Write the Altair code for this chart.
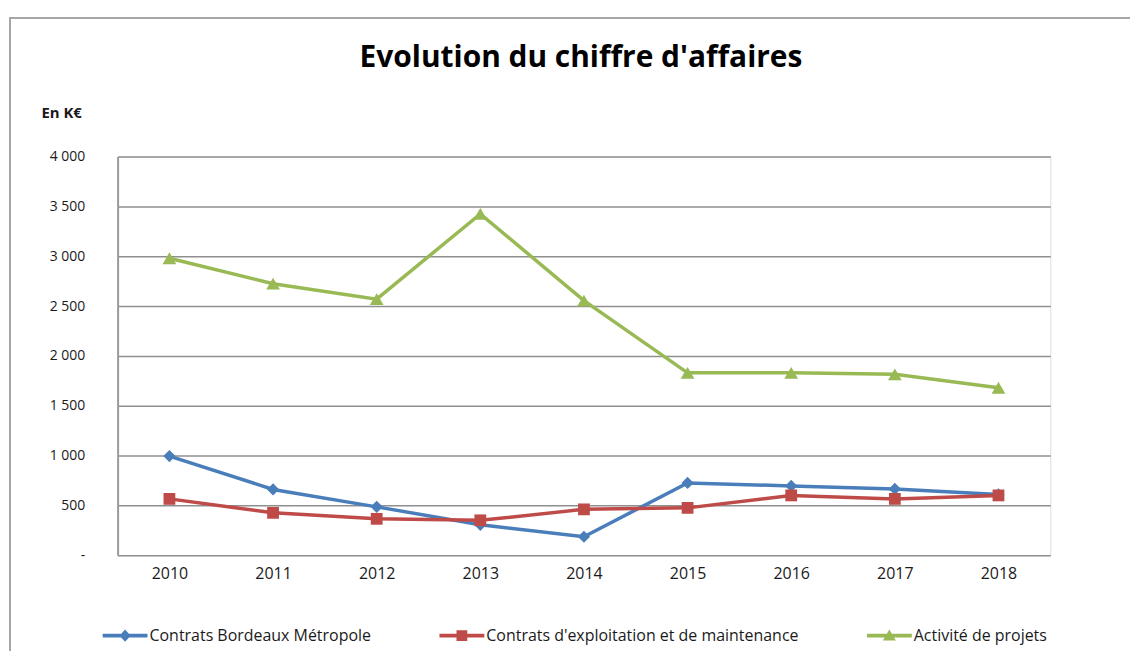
import altair as alt
import pandas as pd

years = ["2010", "2011", "2012", "2013", "2014", "2015", "2016", "2017", "2018"]
series_names = [
    "Contrats Bordeaux Métropole",
    "Contrats d'exploitation et de maintenance",
    "Activité de projets",
]
bordeaux = [995, 660, 485, 305, 185, 725, 695, 665, 610]
exploitation = [565, 425, 365, 350, 460, 475, 600, 565, 600]
projets = [2980, 2725, 2570, 3425, 2555, 1830, 1830, 1815, 1680]
y_ticks = [0, 500, 1000, 1500, 2000, 2500, 3000, 3500, 4000]

colors = ["#4A7EBB", "#BE4B48", "#98B954"]
shapes = ["diamond", "square", "triangle-up"]
sizes = [150, 140, 190]
# legend symbols: a line with the marker in its middle (unit coordinates)
legend_paths = [
    "M-1,-0.085H1V0.085H-1Z M0,-0.27L0.25,0L0,0.27L-0.25,0Z",
    "M-1,-0.085H1V0.085H-1Z M-0.24,-0.24H0.24V0.24H-0.24Z",
    "M-1,-0.085H1V0.085H-1Z M0,-0.28L0.29,0.22L-0.29,0.22Z",
]

rows = []
for name, vals in zip(series_names, [bordeaux, exploitation, projets]):
    for yr, v in zip(years, vals):
        rows.append({"annee": yr, "serie": name, "valeur": v})
df = pd.DataFrame(rows)

FONT = "Open Sans"
TEXT = "#1a1a1a"

x_enc = alt.X(
    "annee:O",
    scale=alt.Scale(type="point", padding=0.5),
    axis=alt.Axis(
        title=None, labelAngle=0, ticks=False, domain=False, grid=False,
        labelFontSize=16, labelColor=TEXT, labelFont=FONT, labelPadding=10,
    ),
)
y_enc = alt.Y(
    "valeur:Q",
    scale=alt.Scale(domain=[0, 4000], nice=False),
    axis=alt.Axis(
        values=y_ticks,
        title="En K€", titleAngle=0, titleAlign="left", titleBaseline="middle",
        titleX=-77, titleY=-44, titleFontSize=15, titleFontWeight="bold",
        titleFont=FONT, titleColor=TEXT,
        labelExpr="datum.value == 0 ? '-' : replace(format(datum.value, ','), ',', ' ')",
        labelFontSize=14, labelColor=TEXT, labelFont=FONT, labelPadding=33,
        ticks=False, domain=True, domainColor="#9a9a9a", domainWidth=2,
        grid=True, gridColor="#8f8f8f", gridWidth=1.5,
    ),
)
color_scale = alt.Scale(domain=series_names, range=colors)

base = alt.Chart(df)

frame = alt.Chart(pd.DataFrame({"k": [0]})).mark_rect(
    fill=None, stroke="#a6a6a6", strokeWidth=2
).encode(
    x=alt.value(-108), x2=alt.value(1200), y=alt.value(-139), y2=alt.value(700)
)

lines = base.mark_line(strokeWidth=3.5).encode(
    x=x_enc, y=y_enc,
    color=alt.Color("serie:N", scale=color_scale, legend=None),
)

point_layers = []
for name, shp, sz in zip(series_names, shapes, sizes):
    point_layers.append(
        base.transform_filter(alt.datum.serie == name)
        .mark_point(shape=shp, filled=True, size=sz, opacity=1)
        .encode(
            x=x_enc, y=y_enc,
            color=alt.Color("serie:N", scale=color_scale, legend=None),
        )
    )

names_js = "[" + ",".join("'" + n.replace("'", "\\'") + "'" for n in series_names) + "]"
paths_js = "[" + ",".join("'" + p + "'" for p in legend_paths) + "]"
shape_expr = f"{paths_js}[indexof({names_js}, datum.value)]"

leg = alt.Legend(
    title=None, orient="none", direction="horizontal", columns=3,
    legendX=-15, legendY=458, symbolSize=2025, symbolStrokeWidth=0,
    symbolOpacity=1, labelFontSize=16, labelFont=FONT, labelColor=TEXT,
    labelOffset=2, columnPadding=68, labelLimit=600,
    symbolType=alt.ExprRef(expr=shape_expr),
)

legend_layer = base.mark_point(filled=True, opacity=0).encode(
    x=x_enc, y=y_enc,
    color=alt.Color("serie:N", scale=color_scale, legend=leg),
)

chart = alt.layer(frame, lines, *point_layers, legend_layer).resolve_scale(
    color="independent"
).properties(
    width=936,
    height=400,
    padding={"left": 110, "top": 148, "right": 80, "bottom": 95},
    autosize=alt.AutoSizeParams(type="none"),
    title=alt.TitleParams(
        "Evolution du chiffre d'affaires",
        font=FONT, fontSize=30, fontWeight="bold", color="#000000",
        anchor="middle", frame="group", offset=-80, dx=-3,
        baseline="alphabetic",
    ),
).configure_view(stroke=None).configure(background="white")

chart.save("out.html", embed_options={"renderer": "svg", "actions": False})
